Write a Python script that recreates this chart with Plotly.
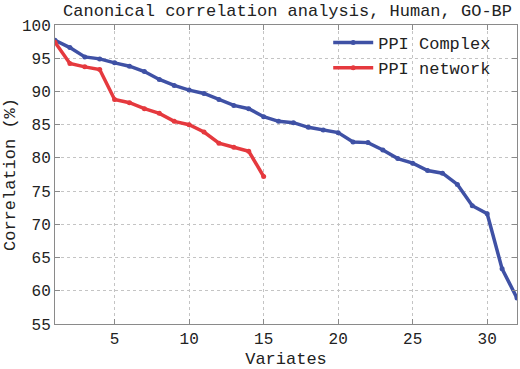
import plotly.graph_objects as go

variates_complex = list(range(1, 33))
ppi_complex = [97.7, 96.6, 95.2, 94.9, 94.3, 93.8, 93.0, 91.8, 90.9, 90.2,
               89.7, 88.8, 87.9, 87.4, 86.2, 85.5, 85.3, 84.6, 84.2, 83.8,
               82.4, 82.3, 81.2, 79.9, 79.2, 78.1, 77.7, 76.0, 72.8, 71.6,
               63.3, 58.9]
variates_network = list(range(1, 16))
ppi_network = [97.4, 94.2, 93.7, 93.3, 88.8, 88.3, 87.4, 86.7, 85.5, 85.0,
               83.9, 82.2, 81.6, 81.0, 77.2]
x_ticks = [5, 10, 15, 20, 25, 30]
y_ticks = [55, 60, 65, 70, 75, 80, 85, 90, 95, 100]

FONT = "Liberation Mono, Courier New, monospace"
BLUE = "#3f51a5"
RED = "#e5393e"

fig = go.Figure()
fig.add_trace(go.Scatter(x=variates_complex, y=ppi_complex, name="PPI Complex",
                         mode="lines+markers",
                         line=dict(color=BLUE, width=3.5),
                         marker=dict(color=BLUE, size=5)))
fig.add_trace(go.Scatter(x=variates_network, y=ppi_network, name="PPI network",
                         mode="lines+markers",
                         line=dict(color=RED, width=3.5),
                         marker=dict(color=RED, size=5)))

axis_common = dict(showline=True, linecolor="#8a8a8a", linewidth=1, mirror="ticks",
                   ticks="inside", ticklen=5, tickcolor="#8a8a8a",
                   showgrid=True, gridcolor="#c4c4c4", griddash="3px,3px", gridwidth=1,
                   zeroline=False, automargin=False,
                   tickfont=dict(family=FONT, size=16, color="#222"))

fig.update_layout(
    width=520, height=369,
    margin=dict(l=55, r=3, t=25, b=45),
    paper_bgcolor="white", plot_bgcolor="white",
    title=dict(text="Canonical correlation analysis, Human, GO-BP",
               font=dict(family=FONT, size=17, color="#222"),
               x=0.553, xanchor="center", y=0.972, yanchor="middle"),
    xaxis=dict(range=[1, 32], tickvals=x_ticks,
               title=dict(text="Variates", font=dict(family=FONT, size=17, color="#222"), standoff=10),
               **axis_common),
    yaxis=dict(range=[55, 100], tickvals=y_ticks,
               title=dict(text="Correlation (%)", font=dict(family=FONT, size=17, color="#222"), standoff=2),
               **axis_common),
    legend=dict(x=0.955, y=1.0, xanchor="right", yanchor="top",
                bgcolor="rgba(255,255,255,0)", borderwidth=0,
                font=dict(family=FONT, size=17, color="#222"),
                tracegroupgap=0, itemwidth=40),
    showlegend=True,
)

fig.write_html("out.html", config={"displayModeBar": False},
               post_script="document.body.style.margin='0';document.body.style.padding='0';document.body.style.overflow='hidden';")
